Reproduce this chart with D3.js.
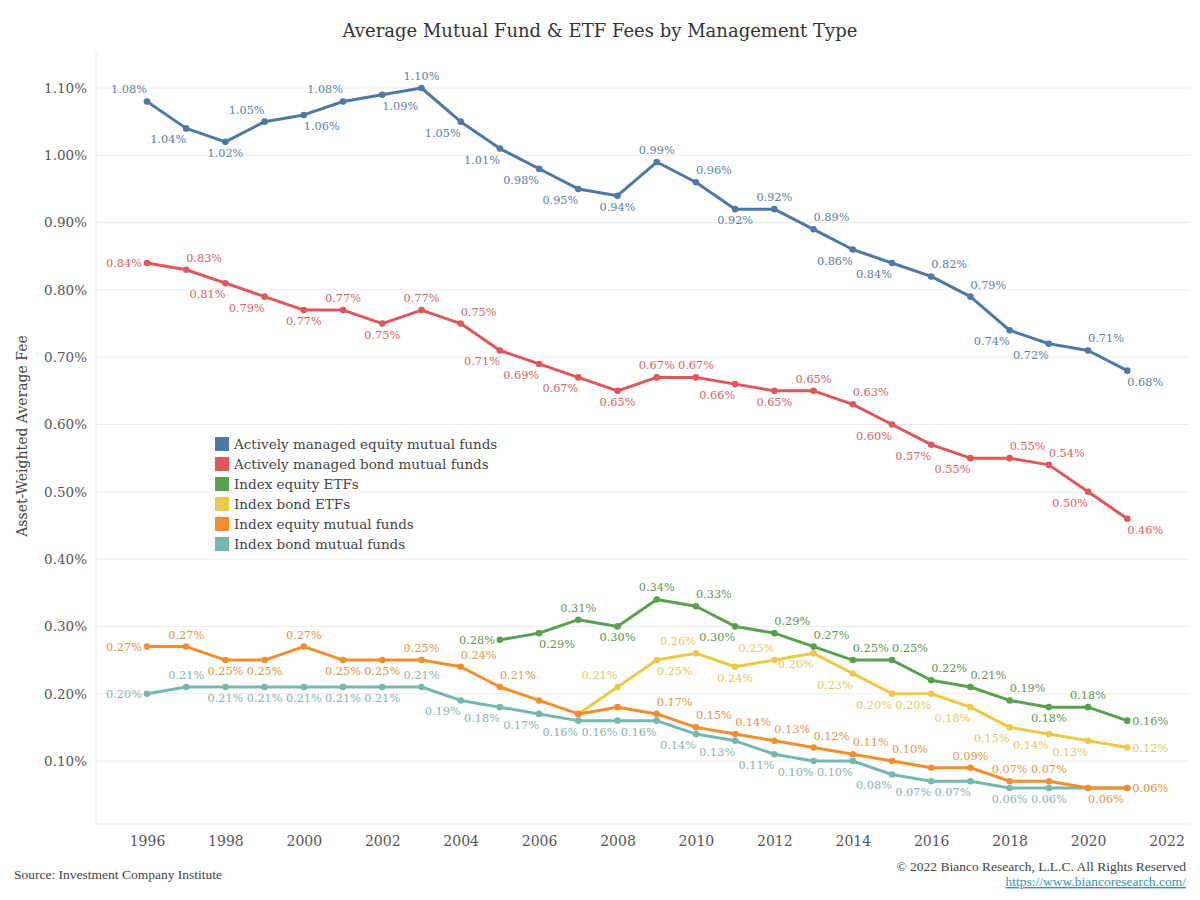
<!DOCTYPE html>
<html>
<head>
<meta charset="utf-8">
<script src="https://cdn.jsdelivr.net/npm/d3@7"></script>
<style>
  html, body { margin: 0; padding: 0; background: #fff; }
  svg { display: block; }
</style>
</head>
<body>
<svg id="chart" width="1200" height="900"></svg>
<script>
// ---------- DATA ----------
const years = [1996,1997,1998,1999,2000,2001,2002,2003,2004,2005,2006,2007,2008,2009,2010,2011,2012,2013,2014,2015,2016,2017,2018,2019,2020,2021];

const seriesNames = [
  "Actively managed equity mutual funds",
  "Actively managed bond mutual funds",
  "Index equity ETFs",
  "Index bond ETFs",
  "Index equity mutual funds",
  "Index bond mutual funds"
];

const activeEquity = [1.08,1.04,1.02,1.05,1.06,1.08,1.09,1.10,1.05,1.01,0.98,0.95,0.94,0.99,0.96,0.92,0.92,0.89,0.86,0.84,0.82,0.79,0.74,0.72,0.71,0.68];
const activeBond   = [0.84,0.83,0.81,0.79,0.77,0.77,0.75,0.77,0.75,0.71,0.69,0.67,0.65,0.67,0.67,0.66,0.65,0.65,0.63,0.60,0.57,0.55,0.55,0.54,0.50,0.46];
const indexEquityETF = [null,null,null,null,null,null,null,null,null,0.28,0.29,0.31,0.30,0.34,0.33,0.30,0.29,0.27,0.25,0.25,0.22,0.21,0.19,0.18,0.18,0.16];
const indexBondETF   = [null,null,null,null,null,null,null,null,null,null,null,0.17,0.21,0.25,0.26,0.24,0.25,0.26,0.23,0.20,0.20,0.18,0.15,0.14,0.13,0.12];
const indexEquityMF  = [0.27,0.27,0.25,0.25,0.27,0.25,0.25,0.25,0.24,0.21,0.19,0.17,0.18,0.17,0.15,0.14,0.13,0.12,0.11,0.10,0.09,0.09,0.07,0.07,0.06,0.06];
const indexBondMF    = [0.20,0.21,0.21,0.21,0.21,0.21,0.21,0.21,0.19,0.18,0.17,0.16,0.16,0.16,0.14,0.13,0.11,0.10,0.10,0.08,0.07,0.07,0.06,0.06,0.06,0.06];

// label placement per point: a=above, b=below, al/ar/bl/br shifted, l=left, r=right, ""=none
const posActiveEquity = ["al","bl","b","al","br","al","br","a","bl","bl","bl","bl","b","a","ar","b","a","ar","bl","bl","ar","ar","bl","bl","ar","br"];
const posActiveBond   = ["l","ar","bl","bl","b","a","b","a","ar","bl","bl","bl","b","a","a","bl","b","a","ar","bl","bl","bl","ar","ar","bl","br"];
const posIndexEquityETF = ["","","","","","","","","","l","br","a","b","a","ar","bl","ar","ar","ar","ar","ar","ar","ar","b","a","r"];
const posIndexBondETF   = ["","","","","","","","","","","","","al","br","al","b","al","bl","bl","bl","bl","bl","bl","bl","bl","r"];
const posIndexEquityMF  = ["l","a","b","b","a","b","b","a","ar","ar","","","","ar","ar","ar","ar","ar","ar","ar","","a","a","a","br","r"];
const posIndexBondMF    = ["l","a","b","b","b","b","b","a","bl","bl","bl","bl","bl","bl","bl","bl","bl","bl","bl","bl","bl","bl","b","b","",""];

const colors = ["#4e79a7","#e15759","#59a14f","#edc948","#f28e2b","#76b7b2"];
const labelColors = ["#5b7ea6","#d9625f","#5a9650","#e6c85c","#e8913f","#86b3ae"];

const yTicks = [0.10,0.20,0.30,0.40,0.50,0.60,0.70,0.80,0.90,1.00,1.10];
const xTicks = [1996,1998,2000,2002,2004,2006,2008,2010,2012,2014,2016,2018,2020,2022];

const allValues = [activeEquity, activeBond, indexEquityETF, indexBondETF, indexEquityMF, indexBondMF];
const allPos = [posActiveEquity, posActiveBond, posIndexEquityETF, posIndexBondETF, posIndexEquityMF, posIndexBondMF];

// ---------- LAYOUT ----------
const svg = d3.select("#chart");
const W = 1200, H = 900;
const plot = {left: 96, right: 1190, top: 52, bottom: 824};
const serif = "'DejaVu Serif', 'Liberation Serif', serif";

const x = d3.scaleLinear().domain([1994.7, 2022.6]).range([plot.left, plot.right]);
const y = d3.scaleLinear().domain([0.0064, 1.1535]).range([plot.bottom, plot.top]);

svg.append("rect").attr("width", W).attr("height", H).attr("fill", "#fff");

// title
svg.append("text")
  .attr("x", 600).attr("y", 37)
  .attr("text-anchor", "middle")
  .attr("font-family", serif)
  .attr("font-size", 18)
  .attr("fill", "#333")
  .text("Average Mutual Fund & ETF Fees by Management Type");

// gridlines
svg.append("g").selectAll("line").data(yTicks).join("line")
  .attr("x1", plot.left).attr("x2", plot.right)
  .attr("y1", d => y(d)).attr("y2", d => y(d))
  .attr("stroke", "#ececec").attr("stroke-width", 1);

// plot border (left & bottom)
svg.append("line").attr("x1", plot.left).attr("x2", plot.left).attr("y1", plot.top).attr("y2", plot.bottom)
  .attr("stroke", "#e8e8e8");
svg.append("line").attr("x1", plot.left).attr("x2", plot.right).attr("y1", plot.bottom).attr("y2", plot.bottom)
  .attr("stroke", "#e8e8e8");

// y axis
const yAxis = d3.axisLeft(y).tickValues(yTicks).tickSize(0).tickPadding(9)
  .tickFormat(d => d3.format(".2f")(d) + "%");
const yg = svg.append("g").attr("transform", `translate(${plot.left},0)`).call(yAxis);
yg.select(".domain").remove();
yg.selectAll("text").attr("font-family", serif).attr("font-size", 13.5).attr("fill", "#555");

// x axis
const xAxis = d3.axisBottom(x).tickValues(xTicks).tickSize(0).tickPadding(12).tickFormat(d3.format("d"));
const xg = svg.append("g").attr("transform", `translate(0,${plot.bottom})`).call(xAxis);
xg.select(".domain").remove();
xg.selectAll("text").attr("font-family", serif).attr("font-size", 14).attr("fill", "#555");

// y axis title
svg.append("text")
  .attr("transform", "translate(27,436) rotate(-90)")
  .attr("text-anchor", "middle")
  .attr("font-family", serif)
  .attr("font-size", 14)
  .attr("fill", "#444")
  .text("Asset-Weighted Average Fee");

// ---------- SERIES ----------
const line = d3.line()
  .defined(d => d.v !== null)
  .x(d => x(d.year)).y(d => y(d.v));

const drawOrder = [5, 3, 4, 2, 1, 0];
const seriesG = svg.append("g");
const labelG = svg.append("g");

drawOrder.forEach(si => {
  const pts = years.map((yr, i) => ({year: yr, v: allValues[si][i], pos: allPos[si][i]}));
  const valid = pts.filter(d => d.v !== null);
  const g = seriesG.append("g");
  g.append("path").datum(pts)
    .attr("d", line)
    .attr("fill", "none")
    .attr("stroke", colors[si])
    .attr("stroke-width", 3)
    .attr("stroke-linejoin", "round")
    .attr("stroke-linecap", "round");
  g.selectAll("circle").data(valid).join("circle")
    .attr("cx", d => x(d.year)).attr("cy", d => y(d.v))
    .attr("r", 3.3).attr("fill", colors[si]);

  const lab = valid.filter(d => d.pos);
  labelG.selectAll(null).data(lab).join("text")
    .attr("font-family", serif)
    .attr("font-size", 11.3)
    .attr("fill", labelColors[si])
    .attr("x", d => {
      const px = x(d.year);
      if (d.pos === "l") return px - 5;
      if (d.pos === "r") return px + 5;
      return px;
    })
    .attr("y", d => {
      const py = y(d.v);
      if (d.pos[0] === "a") return py - 8;
      if (d.pos[0] === "b") return py + 15;
      return py + 4;
    })
    .attr("text-anchor", d => {
      if (d.pos === "l" || d.pos === "al" || d.pos === "bl") return "end";
      if (d.pos === "r" || d.pos === "ar" || d.pos === "br") return "start";
      return "middle";
    })
    .text(d => d3.format(".2f")(d.v) + "%");
});

// ---------- LEGEND ----------
const legend = svg.append("g").attr("transform", "translate(215,437)");
seriesNames.forEach((name, i) => {
  const row = legend.append("g").attr("transform", `translate(0,${i * 20})`);
  row.append("rect").attr("width", 14).attr("height", 14).attr("fill", colors[i]);
  row.append("text")
    .attr("x", 19).attr("y", 12)
    .attr("font-family", serif)
    .attr("font-size", 13.5)
    .attr("fill", "#444")
    .text(name);
});

// ---------- FOOTER ----------
const foot = "'Liberation Serif', serif";
svg.append("text").attr("x", 14).attr("y", 879)
  .attr("font-family", foot).attr("font-size", 13.5).attr("fill", "#444")
  .text("Source: Investment Company Institute");
svg.append("text").attr("x", 1186).attr("y", 871).attr("text-anchor", "end")
  .attr("font-family", foot).attr("font-size", 13.5).attr("fill", "#444")
  .text("© 2022 Bianco Research, L.L.C. All Rights Reserved");
svg.append("text").attr("x", 1186).attr("y", 886).attr("text-anchor", "end")
  .attr("font-family", foot).attr("font-size", 13.5).attr("fill", "#3f8fb0")
  .attr("text-decoration", "underline")
  .text("https://www.biancoresearch.com/");
</script>
</body>
</html>
